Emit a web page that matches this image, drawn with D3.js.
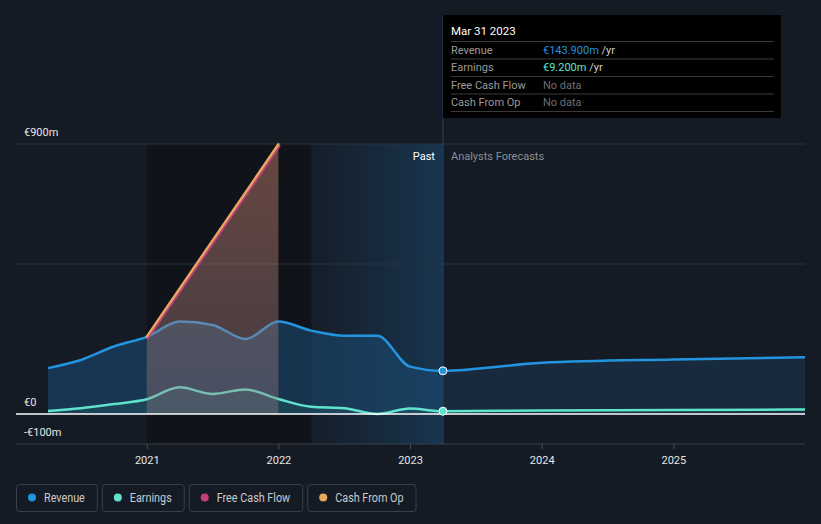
<!DOCTYPE html>
<html>
<head>
<meta charset="utf-8">
<script src="https://cdn.jsdelivr.net/npm/d3@7"></script>
<style>
  body { margin: 0; background: #151b25; }
  svg { display: block; font-family: Roboto, "Noto Sans", sans-serif; }
</style>
</head>
<body>
<script>
// time in decimal years
const revYears = [2020.25, 2020.5, 2020.75, 2021.0, 2021.25, 2021.5, 2021.75, 2022.0, 2022.25, 2022.5, 2022.75, 2023.0, 2023.25, 2024.0, 2025.0, 2026.0];
const revenue = [153, 180, 225, 257, 308, 297, 250, 308, 278, 261, 261, 158, 143.9, 171, 182, 189];
const earnings = [10, 19, 33, 49, 89, 67, 82, 50, 24, 19, 0, 18, 9.2, 12, 13, 15];
const cashYears = [2021.0, 2022.0];
const cashFromOp = [258, 899];
const freeCashFlow = [255, 896];

const xTicks = [2021, 2022, 2023, 2024, 2025];
const yLabels = [
  { v: 900, t: "€900m" },
  { v: 0, t: "€0" },
  { v: -100, t: "-€100m" }
];
const nowYear = 2023.25;
const legendItems = [
  { name: "Revenue", color: "#2394df" },
  { name: "Earnings", color: "#5fe3cc" },
  { name: "Free Cash Flow", color: "#c2407f" },
  { name: "Cash From Op", color: "#e8a85e" }
];
const tipRows = [
  { label: "Revenue", value: "€143.900m", unit: " /yr", color: "#2394df" },
  { label: "Earnings", value: "€9.200m", unit: " /yr", color: "#5fe3cc" },
  { label: "Free Cash Flow", value: "No data", unit: "", color: "#6b6f76" },
  { label: "Cash From Op", value: "No data", unit: "", color: "#6b6f76" }
];

const width = 821;
const height = 524;

const svg = d3.select("body").append("svg")
  .attr("width", width)
  .attr("height", height);

const x = d3.scaleLinear().domain([2020.25, 2026.0]).range([48, 805]);
const y = d3.scaleLinear().domain([-100, 900]).range([444, 144]);

const defs = svg.append("defs");

const pastGrad = defs.append("linearGradient").attr("id", "pastGrad");
pastGrad.append("stop").attr("offset", "0%").attr("stop-color", "#1b4a70").attr("stop-opacity", 0.05);
pastGrad.append("stop").attr("offset", "100%").attr("stop-color", "#1b4a70").attr("stop-opacity", 0.55);

const cashGrad = defs.append("linearGradient").attr("id", "cashGrad")
  .attr("x1", 0).attr("x2", 0).attr("y1", 0).attr("y2", 1);
cashGrad.append("stop").attr("offset", "0%").attr("stop-color", "#b0705c").attr("stop-opacity", 0.55);
cashGrad.append("stop").attr("offset", "100%").attr("stop-color", "#a08088").attr("stop-opacity", 0.35);

// background bands
svg.append("rect")
  .attr("x", x(2021)).attr("y", y(900))
  .attr("width", x(2022.25) - x(2021)).attr("height", y(-100) - y(900))
  .attr("fill", "#10141a");
svg.append("rect")
  .attr("x", x(2022.25)).attr("y", y(900))
  .attr("width", x(nowYear) - x(2022.25)).attr("height", y(-100) - y(900))
  .attr("fill", "url(#pastGrad)");

// grid
svg.append("g")
  .selectAll("line")
  .data([900, 500])
  .join("line")
  .attr("x1", 16).attr("x2", 805)
  .attr("y1", d => y(d)).attr("y2", d => y(d))
  .attr("stroke", "#2d333d").attr("stroke-width", 1);

const idx = d3.range(revYears.length);
const pastIdx = idx.filter(i => revYears[i] <= nowYear);
const futIdx = idx.filter(i => revYears[i] >= nowYear);

const area = vals => d3.area()
  .x(i => x(revYears[i])).y0(y(0)).y1(i => y(vals[i]))
  .curve(d3.curveMonotoneX);
const line = vals => d3.line()
  .x(i => x(revYears[i])).y(i => y(vals[i]))
  .curve(d3.curveMonotoneX);

// areas
svg.append("path").attr("d", area(revenue)(pastIdx)).attr("fill", "#1a4a70").attr("fill-opacity", 0.6);
svg.append("path").attr("d", area(revenue)(futIdx)).attr("fill", "#1a3550").attr("fill-opacity", 0.6);
svg.append("path").attr("d", area(earnings)(pastIdx)).attr("fill", "#2a6a70").attr("fill-opacity", 0.25);
svg.append("path").attr("d", area(earnings)(futIdx)).attr("fill", "#2a6a70").attr("fill-opacity", 0.12);

// lines
svg.append("path").attr("d", line(revenue)(idx))
  .attr("fill", "none").attr("stroke", "#2394df").attr("stroke-width", 2.5);
svg.append("path").attr("d", line(earnings)(idx))
  .attr("fill", "none").attr("stroke", "#5fe3cc").attr("stroke-width", 2.5);

// cash from op area (covers lines underneath)
const cIdx = d3.range(cashYears.length);
svg.append("path")
  .attr("d", d3.area().x(i => x(cashYears[i])).y0(y(0)).y1(i => y(cashFromOp[i]))(cIdx))
  .attr("fill", "url(#cashGrad)");
svg.append("path")
  .attr("d", d3.line().x(i => x(cashYears[i]) + 1).y(i => y(freeCashFlow[i]) + 1)(cIdx))
  .attr("fill", "none").attr("stroke", "#c2407f").attr("stroke-width", 2.2).attr("stroke-linecap", "round");
svg.append("path")
  .attr("d", d3.line().x(i => x(cashYears[i])).y(i => y(cashFromOp[i]))(cIdx))
  .attr("fill", "none").attr("stroke", "#e8a85e").attr("stroke-width", 2.4).attr("stroke-linecap", "round");

// zero line
svg.append("line")
  .attr("x1", 16).attr("x2", 805).attr("y1", y(0)).attr("y2", y(0))
  .attr("stroke", "#ffffff").attr("stroke-width", 1.5);

// x axis
const xAxis = svg.append("g")
  .attr("transform", `translate(0,${y(-100)})`)
  .call(d3.axisBottom(x).tickValues(xTicks).tickFormat(d3.format("d")).tickSize(5).tickPadding(7));
xAxis.select(".domain").remove();
xAxis.selectAll(".tick line").attr("stroke", "#4a5058");
xAxis.selectAll("text").attr("fill", "#e6e6e6").attr("font-size", 11).attr("font-family", "Roboto, sans-serif");
svg.append("line")
  .attr("x1", 16).attr("x2", 805).attr("y1", y(-100)).attr("y2", y(-100))
  .attr("stroke", "#3a4049").attr("stroke-width", 1);

// y labels
svg.append("g")
  .selectAll("text")
  .data(yLabels)
  .join("text")
  .attr("x", 24)
  .attr("y", d => y(d.v) - 8)
  .attr("fill", "#e6e6e6")
  .attr("font-size", 11)
  .text(d => d.t);

// now line
svg.append("line")
  .attr("x1", x(nowYear)).attr("x2", x(nowYear))
  .attr("y1", 15).attr("y2", y(-100))
  .attr("stroke", "#21405c").attr("stroke-width", 1.2);

svg.append("text")
  .attr("x", x(nowYear) - 8).attr("y", 160)
  .attr("text-anchor", "end").attr("fill", "#ffffff").attr("font-size", 11)
  .text("Past");
svg.append("text")
  .attr("x", x(nowYear) + 8).attr("y", 160)
  .attr("fill", "#8a8e94").attr("font-size", 11)
  .text("Analysts Forecasts");

// markers
const nowI = revYears.indexOf(nowYear);
svg.append("circle").attr("cx", x(nowYear)).attr("cy", y(revenue[nowI])).attr("r", 4)
  .attr("fill", "#2394df").attr("stroke", "#ffffff").attr("stroke-width", 1);
svg.append("circle").attr("cx", x(nowYear)).attr("cy", y(earnings[nowI])).attr("r", 4)
  .attr("fill", "#5fe3cc").attr("stroke", "#ffffff").attr("stroke-width", 1);

// tooltip
const tip = svg.append("g").attr("transform", `translate(${x(nowYear)},15)`);
tip.append("rect").attr("width", 338).attr("height", 103).attr("fill", "#000000");
tip.append("text").attr("x", 8).attr("y", 20).attr("fill", "#ffffff").attr("font-size", 11.5)
  .text("Mar 31 2023");
tip.selectAll(".sep")
  .data(d3.range(5))
  .join("line")
  .attr("class", "sep")
  .attr("x1", 8).attr("x2", 331)
  .attr("y1", i => 26.5 + i * 17.5).attr("y2", i => 26.5 + i * 17.5)
  .attr("stroke", "#3a3a3a");
const rows = tip.selectAll(".row")
  .data(tipRows)
  .join("g")
  .attr("class", "row")
  .attr("transform", (d, i) => `translate(0,${38.5 + i * 17.5})`);
rows.append("text").attr("x", 8).attr("fill", "#9a9a9a").attr("font-size", 11).text(d => d.label);
const vt = rows.append("text").attr("x", 100).attr("font-size", 11);
vt.append("tspan").attr("fill", d => d.color).text(d => d.value);
vt.append("tspan").attr("fill", "#cfcfcf").text(d => d.unit);

// legend
const legend = svg.append("g").attr("transform", "translate(16,484)");
let lx = 0;
legendItems.forEach(item => {
  const g = legend.append("g").attr("transform", `translate(${lx},0)`);
  const t = g.append("text").attr("x", 28).attr("y", 18).attr("fill", "#c8cacd")
    .attr("font-size", 12).text(item.name);
  const tw = t.node().getComputedTextLength() * 0.9;
  t.attr("textLength", tw).attr("lengthAdjust", "spacingAndGlyphs");
  const w = tw + 28 + 12;
  g.insert("rect", "text").attr("x", 0.5).attr("y", 0.5).attr("width", w).attr("height", 27)
    .attr("rx", 3).attr("fill", "none").attr("stroke", "#3a4049");
  g.append("circle").attr("cx", 16).attr("cy", 13.5).attr("r", 4).attr("fill", item.color);
  lx += w + 5;
});
</script>
</body>
</html>
